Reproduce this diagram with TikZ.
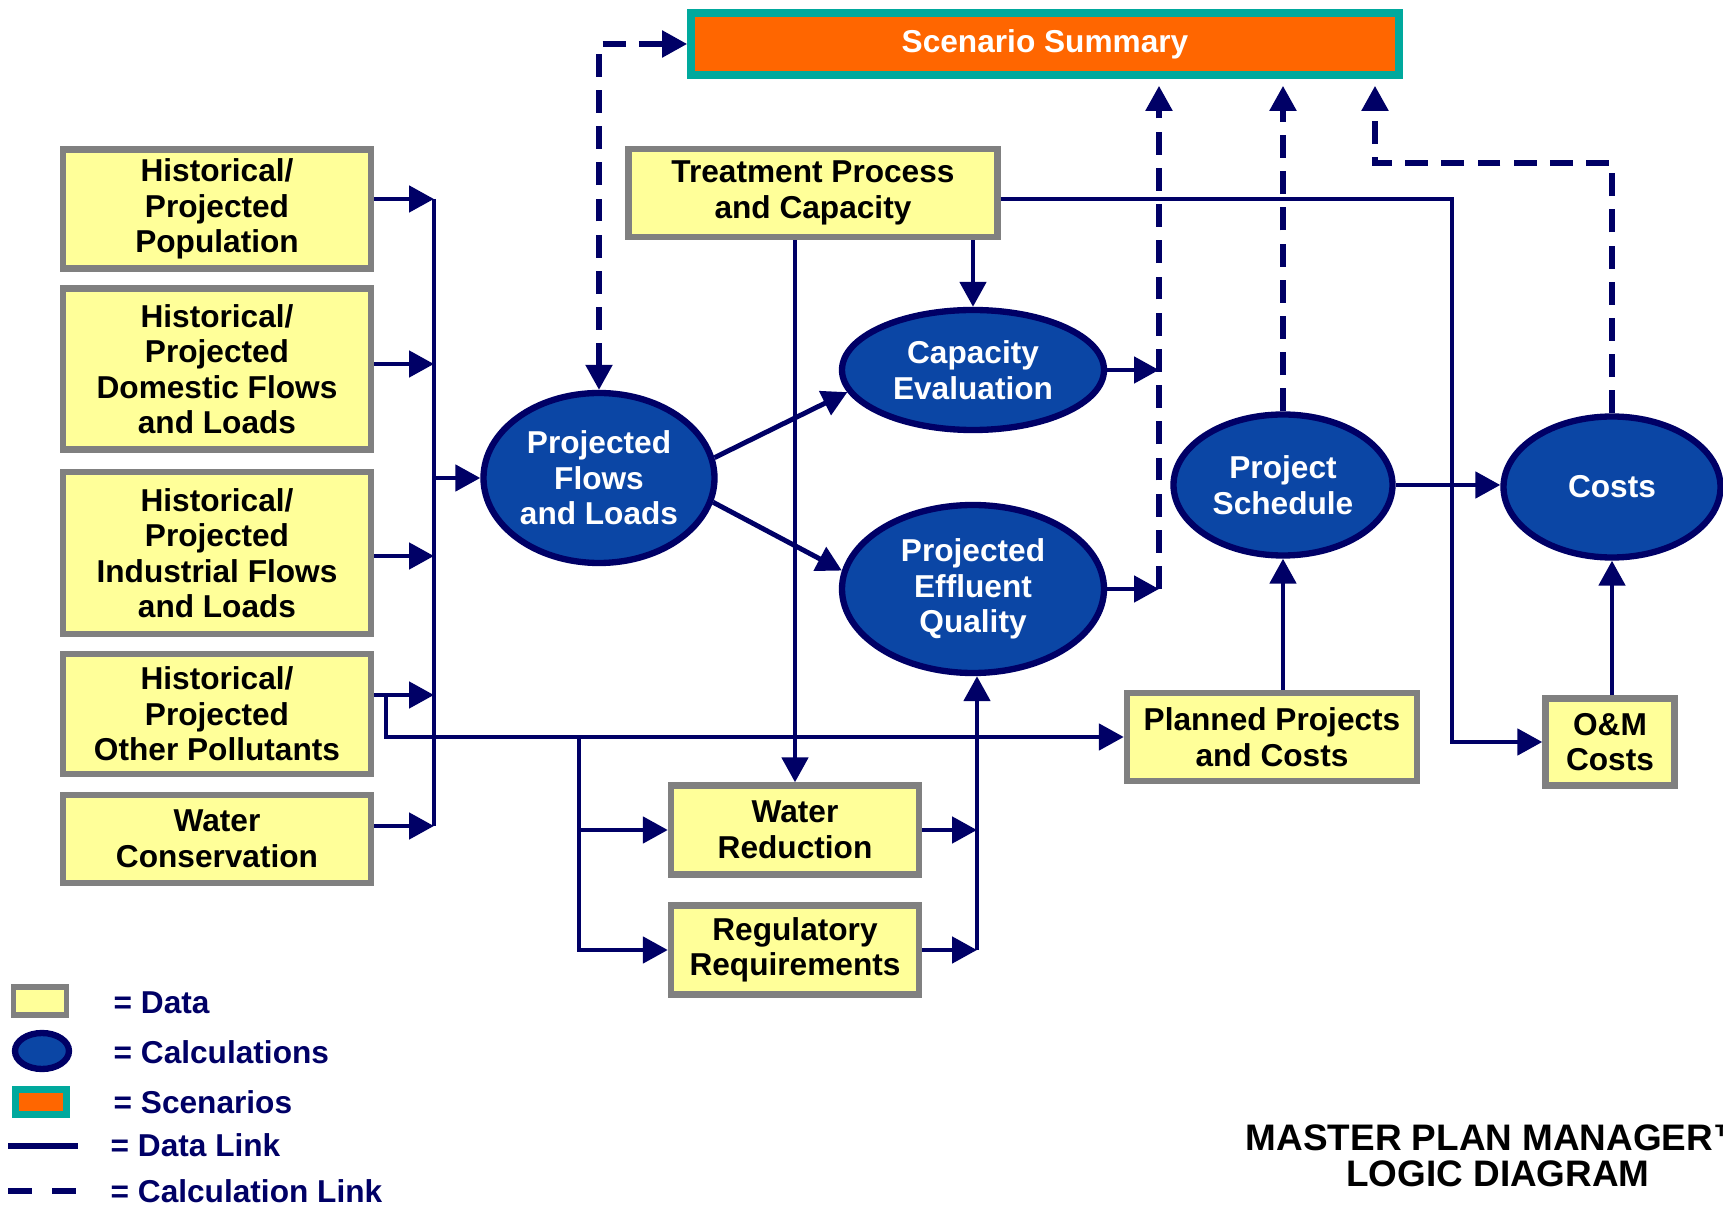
\documentclass[tikz,border=0pt]{standalone}
\usepackage{fontspec}
\setmainfont{Liberation Sans}
\usetikzlibrary{arrows.meta,shapes.geometric}
\definecolor{navy}{RGB}{0,0,102}
\definecolor{calcblue}{RGB}{11,70,165}
\definecolor{boxyellow}{RGB}{255,255,153}
\definecolor{boxgray}{RGB}{128,128,128}
\definecolor{scenorange}{RGB}{255,102,0}
\definecolor{scenteal}{RGB}{0,169,157}

\begin{document}
\begin{tikzpicture}[
  font=\fontsize{9}{10.1}\selectfont\bfseries,
  >={Triangle[length=0.25cm,width=0.26cm]},
  databox/.style={draw=boxgray, fill=boxyellow, line width=1.8pt, align=center, inner sep=0pt},
  calcnode/.style={ellipse, draw=navy, fill=calcblue, line width=1.8pt, text=white, align=center, inner sep=0pt},
  scenbox/.style={draw=scenteal, fill=scenorange, line width=2.2pt, text=white, inner sep=0pt},
  datalink/.style={draw=navy, line width=1.4pt},
  calclink/.style={draw=navy, line width=1.5pt, dash pattern=on 6.5pt off 3.8pt},
  legtext/.style={anchor=west, text=navy, inner sep=0pt}
]
\useasboundingbox (0,0) rectangle (17.23,12.06);

\node[scenbox, minimum width=7.08cm, minimum height=0.62cm] (scen) at (10.45,11.62) {Scenario Summary};

\node[databox, minimum width=3.08cm, minimum height=1.19cm] (pop) at (2.17,9.97) {Historical/\\Projected\\Population};
\node[databox, minimum width=3.08cm, minimum height=1.61cm] (dom) at (2.17,8.37) {Historical/\\Projected\\Domestic Flows\\and Loads};
\node[databox, minimum width=3.08cm, minimum height=1.62cm] (ind) at (2.17,6.53) {Historical/\\Projected\\Industrial Flows\\and Loads};
\node[databox, minimum width=3.08cm, minimum height=1.20cm] (oth) at (2.17,4.92) {Historical/\\Projected\\Other Pollutants};
\node[databox, minimum width=3.08cm, minimum height=0.88cm] (cons) at (2.17,3.67) {Water\\Conservation};

\node[databox, minimum width=3.69cm, minimum height=0.88cm] (treat) at (8.13,10.13) {Treatment Process\\and Capacity};
\node[databox, minimum width=2.48cm, minimum height=0.89cm] (wred) at (7.95,3.76) {Water\\Reduction};
\node[databox, minimum width=2.48cm, minimum height=0.89cm] (reg) at (7.95,2.56) {Regulatory\\Requirements};
\node[databox, minimum width=2.90cm, minimum height=0.88cm] (plan) at (12.72,4.69) {Planned Projects\\and Costs};
\node[databox, minimum width=1.29cm, minimum height=0.87cm] (om) at (16.10,4.64) {O\&M\\Costs};

\node[calcnode, minimum width=2.31cm, minimum height=1.70cm] (pfl) at (5.99,7.28) {Projected\\Flows\\and Loads};
\node[calcnode, minimum width=2.62cm, minimum height=1.20cm] (capev) at (9.73,8.36) {Capacity\\Evaluation};
\node[calcnode, minimum width=2.62cm, minimum height=1.68cm] (peq) at (9.73,6.17) {Projected\\Effluent\\Quality};
\node[calcnode, minimum width=2.19cm, minimum height=1.41cm] (sched) at (12.83,7.21) {Project\\Schedule};
\node[calcnode, minimum width=2.17cm, minimum height=1.41cm] (costs) at (16.12,7.19) {Costs};

\coordinate (b1) at (4.34,10.07);
\coordinate (b2) at (4.34,8.42);
\coordinate (b3) at (4.34,6.50);
\coordinate (b4) at (4.34,5.11);
\coordinate (b5) at (4.34,3.80);
\draw[datalink] (b1) -- (b5);
\foreach \n/\b in {pop/b1,dom/b2,ind/b3,oth/b4,cons/b5}
  \draw[datalink,->] (\n.east |- \b) -- (\b);
\draw[datalink,->] (pfl.west -| b1) -- (pfl.west);

\coordinate (split) at (3.86,5.11);
\draw[datalink,->] (split) |- (plan.west);
\coordinate (fork) at (5.79,4.69);
\draw[datalink,->] (fork) |- (reg.west);
\draw[datalink,->] (fork |- wred.west) -- (wred.west);

\coordinate (merge) at (9.77,2.56);
\draw[datalink,->] (merge) -- (merge |- peq.south);
\draw[datalink,->] (reg.east) -- (merge);
\draw[datalink,->] (wred.east) -- (wred.east -| merge);

\draw[datalink,->] (treat.south -| capev.north) -- (capev.north);
\draw[datalink,->] (treat.south -| wred.north) -- (wred.north);
\coordinate (omturn) at (14.52,10.07);
\draw[datalink,->] (treat.east |- omturn) -- (omturn) |- (om.west);

\draw[datalink,->] (pfl.10) -- (capev.190);
\draw[datalink,->] (pfl.-12) -- (peq.172);

\coordinate (qline) at (11.59,0);
\draw[datalink,->] (capev.east) -- (capev.east -| qline);
\draw[datalink,->] (peq.east) -- (peq.east -| qline);
\draw[calclink,->,shorten >=0.07cm] (peq.east -| qline) -- (scen.south -| qline);
\draw[calclink,->,shorten >=0.07cm] (sched.north) -- (scen.south -| sched.north);
\coordinate (cturn) at (13.75,10.43);
\draw[calclink,->,shorten >=0.07cm] (costs.north) |- (cturn) -- (scen.south -| cturn);
\draw[calclink,<->] (pfl.north) |- (scen.west);

\draw[datalink,->] (sched.east) -- (sched.east -| costs.west);
\draw[datalink,->] (plan.north -| sched.south) -- (sched.south);
\draw[datalink,->] (om.north -| costs.south) -- (costs.south);

\node[databox, line width=1.5pt, minimum width=0.53cm, minimum height=0.28cm] (legdata) at (0.40,2.05) {};
\node[calcnode, minimum width=0.54cm, minimum height=0.36cm] (legcalc) at (0.42,1.55) {};
\node[scenbox, minimum width=0.51cm, minimum height=0.25cm] (legscen) at (0.41,1.04) {};
\coordinate (ldl1) at (0.08,0.60);
\coordinate (ldl2) at (0.78,0.60);
\coordinate (lcl1) at (0.08,0.15);
\coordinate (lcl2) at (0.76,0.15);
\draw[navy, line width=1.8pt] (ldl1) -- (ldl2);
\draw[navy, line width=1.8pt, dash pattern=on 0.24cm off 0.2cm] (lcl1) -- (lcl2);
\node[legtext] (tdata) at (1.13,2.03) {= Data};
\node[legtext] (tcalc) at (1.13,1.54) {= Calculations};
\node[legtext] (tscen) at (1.13,1.04) {= Scenarios};
\node[legtext] (tdl) at (1.10,0.61) {= Data Link};
\node[legtext] (tcl) at (1.10,0.15) {= Calculation Link};

\node[align=center, inner sep=0pt, font=\fontsize{10.5}{10.2}\selectfont\bfseries] (title) at (14.98,0.50) {MASTER PLAN MANAGER™\\LOGIC DIAGRAM};
\end{tikzpicture}
\end{document}
